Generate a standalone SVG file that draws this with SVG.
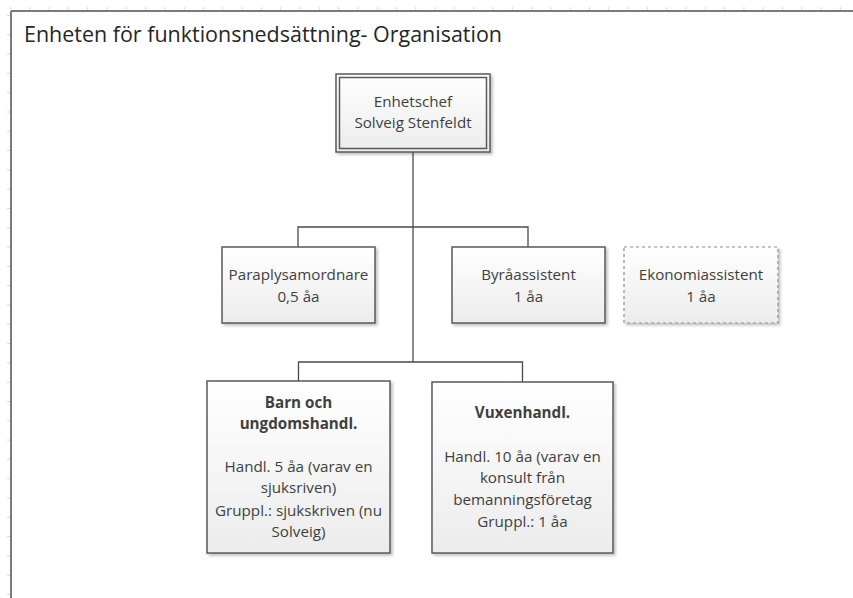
<svg xmlns="http://www.w3.org/2000/svg" width="853" height="598" viewBox="0 0 853 598">
  <defs>
    <linearGradient id="boxFill" x1="0" y1="0" x2="0" y2="1">
      <stop offset="0" stop-color="#ffffff"/>
      <stop offset="1" stop-color="#ececec"/>
    </linearGradient>
    <filter id="shadow" x="-10%" y="-10%" width="125%" height="125%">
      <feGaussianBlur in="SourceAlpha" stdDeviation="1.5"/>
      <feOffset dx="2" dy="2" result="b"/>
      <feComponentTransfer><feFuncA type="linear" slope="0.25"/></feComponentTransfer>
      <feMerge><feMergeNode/><feMergeNode in="SourceGraphic"/></feMerge>
    </filter>
    <pattern id="ticksTop" x="10" y="0" width="19.3" height="12" patternUnits="userSpaceOnUse">
      <line x1="0.5" y1="7" x2="0.5" y2="10" stroke="#d8d8d8" stroke-width="1"/>
    </pattern>
    <pattern id="ticksLeft" x="0" y="15" width="12" height="19.3" patternUnits="userSpaceOnUse">
      <line x1="7" y1="0.5" x2="10" y2="0.5" stroke="#d8d8d8" stroke-width="1"/>
    </pattern>
  </defs>
  <style>
    .box { fill: url(#boxFill); stroke: #5a5a5a; stroke-width: 1.5; }
    .dashed { stroke: #8a8a8a; stroke-width: 1.2; stroke-dasharray: 3 3; }
    .txt { font-family: "Open Sans", "Liberation Sans", sans-serif; font-size: 15.2px; fill: #3f3f3f; text-anchor: middle; }
    .bold { font-weight: bold; }
    .conn { stroke: #4a4a4a; stroke-width: 1.3; fill: none; }
    .title { font-family: "Open Sans", "Liberation Sans", sans-serif; font-size: 21px; fill: #262626; }
  </style>

  <!-- page background and ruler ticks -->
  <rect x="0" y="0" width="853" height="598" fill="#ffffff"/>
  <rect x="10" y="0" width="843" height="11" fill="url(#ticksTop)"/>
  <rect x="0" y="11" width="11" height="587" fill="url(#ticksLeft)"/>
  <!-- page frame -->
  <line x1="11" y1="11" x2="853" y2="11" stroke="#7a7a7a" stroke-width="2"/>
  <line x1="11" y1="11" x2="11" y2="598" stroke="#7a7a7a" stroke-width="2"/>

  <text class="title" x="24" y="42" textLength="478" lengthAdjust="spacingAndGlyphs">Enheten för funktionsnedsättning- Organisation</text>

  <!-- connectors -->
  <g id="connectors">
    <path class="conn" d="M413 152 V362"/>
    <path class="conn" d="M298 247 V227 H528 V247"/>
    <path class="conn" d="M298.5 381 V362 H522.5 V382"/>
  </g>

  <g id="enhetschef">
    <rect x="336" y="74" width="154" height="78" fill="url(#boxFill)" stroke="#5a5a5a" stroke-width="1.5" filter="url(#shadow)"/>
    <rect x="339.5" y="77.5" width="147" height="71" fill="none" stroke="#5a5a5a" stroke-width="1.5"/>
    <text class="txt" x="413" y="107">Enhetschef</text>
    <text class="txt" x="413" y="128">Solveig Stenfeldt</text>
  </g>

  <g id="paraplysamordnare">
    <rect class="box" x="222" y="247" width="153" height="76" filter="url(#shadow)"/>
    <text class="txt" x="298.5" y="280">Paraplysamordnare</text>
    <text class="txt" x="298.5" y="302">0,5 åa</text>
  </g>

  <g id="byraassistent">
    <rect class="box" x="452" y="247" width="153" height="76" filter="url(#shadow)"/>
    <text class="txt" x="528.5" y="280">Byråassistent</text>
    <text class="txt" x="528.5" y="302">1 åa</text>
  </g>

  <g id="ekonomiassistent">
    <rect class="box dashed" x="624" y="247" width="154" height="76" filter="url(#shadow)"/>
    <text class="txt" x="701" y="280">Ekonomiassistent</text>
    <text class="txt" x="701" y="302">1 åa</text>
  </g>

  <g id="barn-ungdom">
    <rect class="box" x="207" y="381" width="183" height="172" filter="url(#shadow)"/>
    <text class="txt bold" x="298.5" y="408">Barn och</text>
    <text class="txt bold" x="298.5" y="429">ungdomshandl.</text>
    <text class="txt" x="298.5" y="472">Handl. 5 åa (varav en</text>
    <text class="txt" x="298.5" y="493">sjuksriven)</text>
    <text class="txt" x="298.5" y="516">Gruppl.: sjukskriven (nu</text>
    <text class="txt" x="298.5" y="537">Solveig)</text>
  </g>

  <g id="vuxen">
    <rect class="box" x="432" y="382" width="181" height="171" filter="url(#shadow)"/>
    <text class="txt bold" x="522.5" y="418">Vuxenhandl.</text>
    <text class="txt" x="522.5" y="462">Handl. 10 åa (varav en</text>
    <text class="txt" x="522.5" y="483">konsult från</text>
    <text class="txt" x="522.5" y="505">bemanningsföretag</text>
    <text class="txt" x="522.5" y="527">Gruppl.: 1 åa</text>
  </g>
</svg>
